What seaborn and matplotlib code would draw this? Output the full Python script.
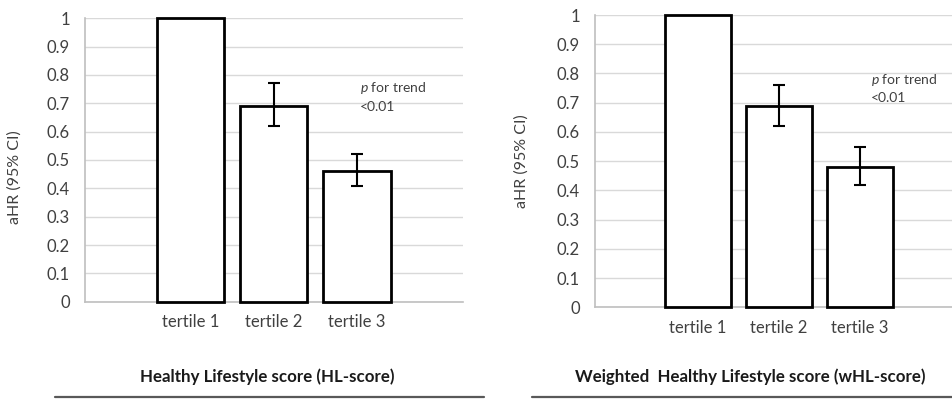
import numpy as np
import pandas as pd
import matplotlib
matplotlib.use("Agg")
import matplotlib.pyplot as plt
from matplotlib.lines import Line2D
import seaborn as sns

# ---- data ----
categories = ["tertile 1", "tertile 2", "tertile 3"]
hl_values = [1.0, 0.69, 0.46]
hl_lower = [np.nan, 0.62, 0.41]
hl_upper = [np.nan, 0.77, 0.52]
whl_values = [1.0, 0.69, 0.48]
whl_lower = [np.nan, 0.62, 0.42]
whl_upper = [np.nan, 0.76, 0.55]
yticks = [0, 0.1, 0.2, 0.3, 0.4, 0.5, 0.6, 0.7, 0.8, 0.9, 1.0]
ytick_labels = ["0", "0.1", "0.2", "0.3", "0.4", "0.5", "0.6", "0.7", "0.8", "0.9", "1"]
y_label = "aHR (95% CI)"
titles = ["Healthy Lifestyle score (HL-score)", "Weighted  Healthy Lifestyle score (wHL-score)"]
p_lines = ["for trend", "<0.01"]

sns.set_theme(style="white")
plt.rcParams["font.family"] = ["Lato", "DejaVu Sans"]
plt.rcParams["mathtext.fontset"] = "custom"
plt.rcParams["mathtext.it"] = "Lato:italic"
plt.rcParams["mathtext.rm"] = "Lato"

fig = plt.figure(figsize=(9.53, 3.99), dpi=100)

TXT = "#404040"
GRID = "#D9D9D9"
AX = "#BFBFBF"

panels = [
    dict(rect=[85/953, 97.3/399, 378/953, 283.4/399], vals=hl_values, lo=hl_lower, hi=hl_upper,
         xlim=(-1.27, 3.277), ylab=(-63/378, 0.44), ptxt=(2.04, 0.754, 0.687),
         title_xy=(267/953, 22/399)),
    dict(rect=[595/953, 91.7/399, 360/953, 292.3/399], vals=whl_values, lo=whl_lower, hi=whl_upper,
         xlim=(-1.269, 3.17), ylab=(-66/360, 0.5), ptxt=(2.134, 0.778, 0.716),
         title_xy=(750/953, 22/399)),
]

for i, p in enumerate(panels):
    ax = fig.add_axes(p["rect"])
    df = pd.DataFrame({"category": categories, "value": p["vals"]})
    sns.barplot(data=df, x="category", y="value", ax=ax, color="white",
                edgecolor="black", linewidth=2.0, width=0.81, errorbar=None, zorder=3)
    for patch in ax.patches:
        patch.set_clip_on(False)
        patch.set_zorder(3)
    # error bars
    xs = np.arange(len(categories))
    vals = np.array(p["vals"])
    lo = np.array(p["lo"])
    hi = np.array(p["hi"])
    mask = ~np.isnan(lo)
    ax.errorbar(xs[mask], vals[mask], yerr=[vals[mask] - lo[mask], hi[mask] - vals[mask]],
                fmt="none", ecolor="black", elinewidth=1.5, capsize=4, capthick=1.5, zorder=4)
    ax.set_xlim(*p["xlim"])
    ax.set_ylim(0, 1.0)
    ax.set_yticks(yticks)
    ax.set_yticklabels(ytick_labels)
    ax.yaxis.grid(True, color=GRID, linewidth=1.0)
    ax.set_axisbelow(True)
    for s in ["top", "right"]:
        ax.spines[s].set_visible(False)
    for s in ["left", "bottom"]:
        ax.spines[s].set_color(AX)
        ax.spines[s].set_linewidth(1.2)
        ax.spines[s].set_zorder(1)
    ax.tick_params(axis="y", length=0, pad=11, labelsize=12, labelcolor=TXT)
    ax.tick_params(axis="x", length=0, pad=9, labelsize=12, labelcolor=TXT)
    ax.set_xlabel("")
    ax.set_ylabel(y_label, fontsize=11.5, color=TXT)
    ax.yaxis.set_label_coords(*p["ylab"])
    px, py1, py2 = p["ptxt"]
    ax.text(px, py1, r"$\it{p}$ " + p_lines[0], fontsize=10, color=TXT, va="center", ha="left")
    ax.text(px, py2, p_lines[1], fontsize=10, color=TXT, va="center", ha="left")
    fig.text(p["title_xy"][0], p["title_xy"][1], titles[i], fontsize=12.2, fontweight="bold",
             color="#1a1a1a", ha="center", va="center")

# bottom rules
fig.add_artist(Line2D([55/953, 484/953], [2.5/399, 2.5/399], color="#595959", linewidth=1.6))
fig.add_artist(Line2D([532/953, 1.0], [2.5/399, 2.5/399], color="#595959", linewidth=1.6))

fig.savefig("out.png", dpi=100, facecolor="white")
